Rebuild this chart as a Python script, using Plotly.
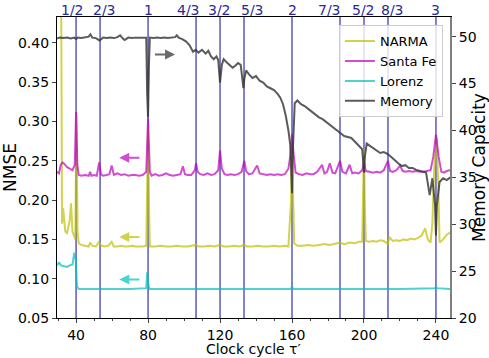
import plotly.graph_objects as go

# clock cycle tau' vs NMSE (left) and memory capacity (right)
tau = 80
ratio_vals = [1/2, 2/3, 1, 4/3, 3/2, 5/3, 2, 7/3, 5/2, 8/3, 3]
ratio_labels = ["1/2", "2/3", "1", "4/3", "3/2", "5/3", "2", "7/3", "5/2", "8/3", "3"]
# where the top labels sit (they are nudged apart in the original)
label_pos = [38.1, 55.9, 80.2, 102.2, 119.7, 137.8, 160, 181.1, 200, 215.6, 239.7]

narma_pts = [
    (29.5, 0.6), (31.5, 0.6), (32.2, 0.17), (32.8, 0.19), (34, 0.16), (35, 0.158),
    (36.5, 0.175), (37.2, 0.196), (38, 0.16), (39, 0.152), (39.6, 0.15), (40.2, 0.31),
    (40.8, 0.16), (41.5, 0.145), (43, 0.143), (45, 0.142), (47, 0.141), (47.8, 0.146),
    (49, 0.142), (51, 0.141), (52.8, 0.147), (54, 0.142), (56, 0.141), (58, 0.142),
    (59.8, 0.147), (61, 0.141), (63, 0.141), (65, 0.142), (67, 0.141), (69, 0.141),
    (71, 0.142), (73, 0.141), (75, 0.141), (77, 0.141), (79, 0.142), (79.5, 0.2),
    (80, 0.29), (80.5, 0.2), (81, 0.141), (84, 0.141), (87, 0.142), (90, 0.141),
    (93, 0.141), (96, 0.142), (99, 0.141), (102, 0.141), (104, 0.142), (106.7, 0.143),
    (108, 0.141), (111, 0.141), (114, 0.142), (117, 0.141), (120, 0.143), (122, 0.141),
    (125, 0.141), (128, 0.142), (131, 0.141), (133.3, 0.143), (135, 0.141), (138, 0.141),
    (141, 0.142), (144, 0.141), (147, 0.141), (150, 0.142), (153, 0.141), (156, 0.142),
    (158, 0.141), (159.5, 0.2), (160, 0.27), (160.5, 0.2), (161.2, 0.145), (163, 0.142),
    (166, 0.142), (169, 0.143), (172, 0.142), (175, 0.143), (178, 0.144), (181, 0.143),
    (184, 0.145), (186.7, 0.146), (189, 0.144), (192, 0.146), (195, 0.145), (197, 0.147),
    (199, 0.147), (199.6, 0.2), (200, 0.265), (200.4, 0.2), (201, 0.148), (203, 0.147),
    (205, 0.148), (207, 0.147), (209, 0.149), (211, 0.148), (213.3, 0.144), (214, 0.153),
    (216, 0.148), (218, 0.149), (220, 0.148), (222, 0.15), (224, 0.149), (226, 0.151),
    (228, 0.15), (230, 0.152), (232, 0.155), (234, 0.164), (235.5, 0.15), (237, 0.146),
    (238, 0.17), (239, 0.24), (240.4, 0.28), (241.3, 0.22), (242, 0.146), (244, 0.15),
    (246, 0.156), (248, 0.159),
]

santafe_pts = [
    (29.5, 0.236), (30.5, 0.234), (31.5, 0.245), (32.5, 0.248), (33.5, 0.246), (35, 0.242),
    (36.5, 0.24), (38, 0.238), (39.3, 0.245), (40, 0.312), (40.7, 0.245), (41.5, 0.232),
    (43, 0.231), (45, 0.232), (47, 0.231), (47.8, 0.236), (48.5, 0.231), (50, 0.232),
    (51.5, 0.231), (52.8, 0.248), (53.8, 0.233), (55, 0.231), (57, 0.232), (58.5, 0.233),
    (59.8, 0.244), (61, 0.232), (63, 0.234), (65, 0.232), (67, 0.233), (69, 0.231),
    (71, 0.232), (73, 0.232), (75, 0.231), (77, 0.232), (79, 0.236), (80, 0.304),
    (81, 0.236), (82, 0.231), (84, 0.233), (86, 0.231), (88, 0.232), (90, 0.234),
    (92, 0.232), (94, 0.231), (96, 0.232), (98, 0.233), (99.4, 0.243), (100.5, 0.233),
    (102, 0.232), (104, 0.232), (106, 0.238), (106.7, 0.247), (107.5, 0.236), (109, 0.233),
    (111, 0.232), (113, 0.234), (115, 0.232), (117, 0.233), (119, 0.238), (120, 0.263),
    (121, 0.24), (122.5, 0.233), (124, 0.232), (126, 0.233), (128, 0.232), (130, 0.233),
    (132, 0.236), (133.5, 0.25), (134.5, 0.237), (136, 0.233), (138, 0.234), (140.6, 0.244),
    (142, 0.234), (144, 0.233), (146, 0.232), (148, 0.233), (150, 0.232), (152, 0.233),
    (154, 0.232), (156, 0.233), (158, 0.24), (159.3, 0.26), (160, 0.284), (160.8, 0.26),
    (162, 0.235), (164, 0.233), (166, 0.232), (168, 0.234), (170, 0.233), (172, 0.233),
    (174, 0.236), (176.7, 0.245), (178, 0.234), (179.5, 0.236), (181, 0.247), (182.5, 0.235),
    (184, 0.234), (186.7, 0.25), (188, 0.236), (190, 0.234), (192, 0.245), (193.5, 0.234),
    (195, 0.235), (197, 0.234), (199, 0.238), (200, 0.248), (201, 0.237), (203, 0.236),
    (205, 0.235), (207, 0.236), (209, 0.235), (211, 0.238), (213.3, 0.25), (214.5, 0.237),
    (216, 0.236), (218, 0.238), (220, 0.244), (221.5, 0.237), (223, 0.236), (225, 0.237),
    (227, 0.236), (229, 0.237), (231, 0.236), (233, 0.236), (235, 0.237), (237, 0.238),
    (238.5, 0.255), (240, 0.283), (241.5, 0.255), (243, 0.236), (244.5, 0.235), (246, 0.237),
    (248, 0.238),
]

lorenz_pts = [
    (29.5, 0.117), (30.5, 0.121), (31.5, 0.117), (33, 0.116), (35, 0.115), (36.5, 0.117),
    (38, 0.118), (39, 0.133), (39.8, 0.125), (40.5, 0.09), (41.5, 0.087), (50, 0.087),
    (60, 0.087), (70, 0.087), (79, 0.088), (79.5, 0.108), (80.3, 0.09), (81, 0.087),
    (100, 0.087), (120, 0.087), (140, 0.087), (159.5, 0.087), (160, 0.09), (160.6, 0.087),
    (180, 0.087), (200, 0.087), (220, 0.087), (239.5, 0.088), (240, 0.09), (240.5, 0.088),
    (248, 0.087),
]

memory_pts = [
    (29.5, 49.8), (31, 49.9), (33, 49.85), (35, 49.9), (37, 49.8), (39, 49.9), (40, 49.75),
    (41, 49.9), (43, 49.85), (45, 49.9), (47, 50.0), (48, 50.25), (49, 49.9), (51, 49.85),
    (53, 49.6), (55, 49.9), (57, 49.85), (59, 49.9), (61, 49.85), (63, 49.95), (64.5, 50.15),
    (66, 49.8), (67, 49.65), (69, 49.9), (71, 49.85), (73, 49.9), (75, 49.9), (77, 49.85),
    (79, 49.9), (79.5, 44), (80, 41.4), (80.5, 47), (81, 49.9), (83, 49.85), (85, 49.9),
    (87, 49.85), (89, 49.9), (91, 49.85), (93, 49.9), (95, 49.95), (96, 50.15), (97, 49.9),
    (99, 49.75), (101, 49.5), (103, 49.1), (104, 48.7), (105, 48.4), (106.5, 48.6),
    (108, 48.3), (110, 48.6), (112, 48.2), (113.5, 48.5), (115, 47.9), (116.5, 47.6),
    (118, 47.9), (119, 47.5), (120, 45.1), (121, 47.0), (122, 47.6), (123.5, 47.3),
    (125, 47.0), (127, 46.7), (128.5, 46.9), (130, 47.2), (131.5, 47.0), (133, 44.5),
    (133.5, 45.5), (134.5, 46.4), (136, 46.0), (138, 45.6), (140, 45.8), (142, 45.3),
    (144, 45.1), (146, 44.7), (148, 44.5), (150, 44.3), (152, 43.9), (153.5, 43.5),
    (155, 42.8), (156.5, 41.6), (158, 40.0), (159, 38.5), (160, 33.3), (160.5, 38),
    (161.5, 42.9), (163, 43.2), (165, 42.8), (167, 42.6), (169, 42.3), (171, 42.0),
    (173, 41.8), (175, 41.4), (177, 41.2), (179, 40.9), (181, 40.7), (183, 40.4),
    (185, 40.1), (187, 39.7), (189, 39.4), (191, 39.3), (193, 39.2), (195, 38.8),
    (197, 38.4), (199, 38.0), (200, 35.5), (200.5, 37.2), (201.5, 38.6), (203, 38.4),
    (205, 38.1), (207, 37.8), (209, 37.6), (211, 37.7), (213, 37.5), (215, 37.2),
    (217, 36.8), (219, 36.5), (221, 36.2), (223, 36.3), (225, 36.0), (227, 36.0),
    (229, 35.8), (231, 35.7), (233, 35.6), (234.5, 35.5), (236.5, 33.1), (238, 34.9),
    (239.5, 32), (240, 28.8), (240.5, 32), (242, 34.5), (244, 34.9), (246, 34.7), (248, 35.0),
]

font = "DejaVu Sans"
navy = "#28289a"

fig = go.Figure()

def add_series(pts, name, color, yaxis="y"):
    xs, ys = zip(*pts)
    fig.add_trace(go.Scatter(x=xs, y=ys, mode="lines", name=name, yaxis=yaxis,
                             line=dict(color=color, width=2)))

add_series(narma_pts, "NARMA", "rgba(191,191,0,0.7)")
add_series(santafe_pts, "Santa Fe", "rgba(191,0,191,0.7)")
add_series(lorenz_pts, "Lorenz", "rgba(0,191,191,0.7)")
add_series(memory_pts, "Memory", "rgba(50,50,50,0.8)", yaxis="y2")

# vertical lines at the resonant ratios
for r in ratio_vals:
    fig.add_shape(type="line", xref="x", yref="paper", x0=tau*r, x1=tau*r, y0=0, y1=1,
                  line=dict(color="rgba(30,30,160,0.85)", width=1.3), layer="below")

# ratio labels above the plot
for pos, lab in zip(label_pos, ratio_labels):
    fig.add_annotation(x=pos, y=1.0233, xref="x", yref="paper", text=lab,
                       showarrow=False, xanchor="center", yanchor="middle",
                       font=dict(color=navy, size=14))

# x title placed by hand so it clears the tick labels
fig.add_annotation(x=0.5, y=-0.104, xref="paper", yref="paper", text="Clock cycle τ′",
                   showarrow=False, xanchor="center", yanchor="middle", font=dict(size=14))

# arrows pointing to the relevant axis
arrows = [
    (76, 0.254, 64, "y", "rgba(191,0,191,0.7)"),
    (76, 0.153, 64, "y", "rgba(191,191,0,0.7)"),
    (76, 0.099, 64, "y", "rgba(0,191,191,0.7)"),
    (83, 48.1, 95, "y2", "rgba(90,90,90,0.9)"),
]
for x0, y0, x1, yr, c in arrows:
    fig.add_annotation(x=x1, y=y0, ax=x0, ay=y0, xref="x", yref=yr, axref="x", ayref=yr,
                       showarrow=True, arrowhead=2, arrowsize=1, arrowwidth=2,
                       arrowcolor=c, text="")

x_range = [29.4, 247.8]
fig.update_layout(
    width=489, height=358,
    margin=dict(l=57, r=39, t=17, b=40, autoexpand=False),
    plot_bgcolor="white", paper_bgcolor="white",
    font=dict(family=font, size=14, color="black"),
    showlegend=True,
    legend=dict(x=0.982, y=0.973, xanchor="right", yanchor="top",
                bgcolor="rgba(255,255,255,0.8)", bordercolor="#cccccc", borderwidth=1,
                font=dict(size=13), tracegroupgap=0),
    xaxis=dict(range=x_range, tickvals=[40, 80, 120, 160, 200, 240], automargin=False,
               showline=True, linecolor="black", linewidth=1.2, mirror=True,
               ticks="outside", ticklen=4, showgrid=False, zeroline=False,
               minor=dict(dtick=10, tick0=0, ticks="outside", ticklen=2)),
    yaxis=dict(range=[0.05, 0.433], tickvals=[0.05, 0.10, 0.15, 0.20, 0.25, 0.30, 0.35, 0.40],
               tickformat=".2f", showline=True, linecolor="black", linewidth=1.2,
               automargin=False,
               ticks="outside", ticklen=4, showgrid=False, zeroline=False,
               title=dict(text="NMSE", standoff=4)),
    yaxis2=dict(range=[20, 52.1], overlaying="y", side="right", automargin=False,
                tickvals=[20, 25, 30, 35, 40, 45, 50], showline=True,
                linecolor="#808080", linewidth=2, ticks="outside", ticklen=4,
                showgrid=False, zeroline=False,
                title=dict(text="Memory Capacity", standoff=2)),
)

# the page body has a default margin; drop it so the figure sits at the corner
fig.write_html("out.html", config={"displayModeBar": False},
               post_script="document.body.style.margin='0';")
